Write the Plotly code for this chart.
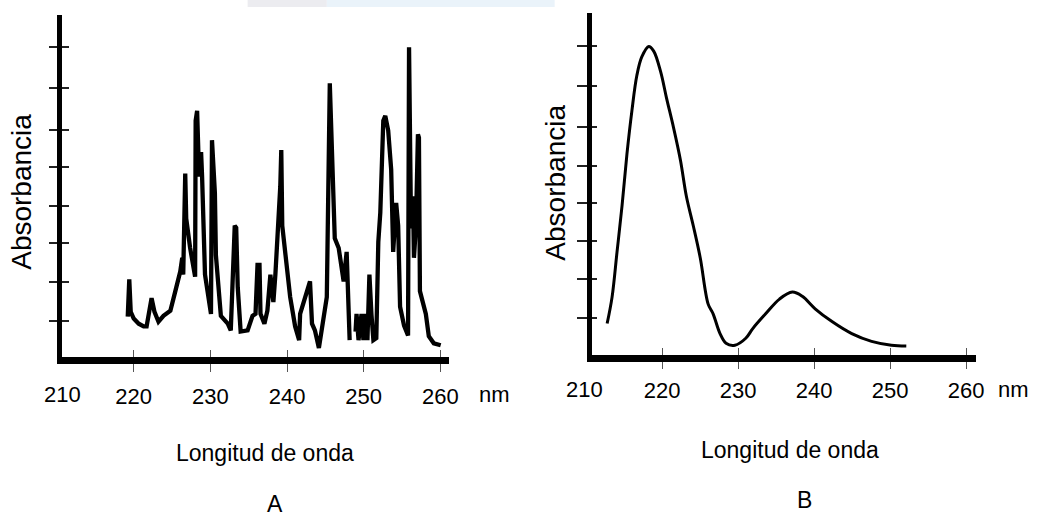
import plotly.graph_objects as go

# ---------------- data ----------------
# Panel A: jagged spectrum (wavelength nm, absorbance in tick units); None = gap in the trace
a_nm = [219.22, 219.42, 219.61, 220.00, 220.65, 221.29, 221.68, 222.33, 222.71, 223.23,
        223.88, 224.52, 224.78, 225.43, 226.07, 226.33, 226.46, 226.72, 226.85, 227.36,
        228.01, 228.08, 228.27, 228.53, 228.79, 228.92, 229.30, 230.08, 230.21, 230.59,
        230.72, 231.37, 232.27, 232.66, 232.92, 233.18, 233.37, 233.57, 233.95, 234.86,
        235.50, 235.89, 236.15, 236.41, 236.54, 237.05, 237.44, 237.83, 238.22, 238.48,
        239.12, 239.25, 239.38, 239.77, 240.41, 241.06, 241.58, 241.71, 242.35, 243.00,
        243.26, 243.64, 244.16, 244.55, 245.19, 245.58, 245.97, 246.23, 246.74, 247.39,
        247.78, 248.04, 248.17, None, 248.94, 249.07, 249.33, 249.72, 249.97, 250.23,
        250.49, 250.75, 251.01, 251.27, 251.65, 251.91, 252.17, 252.56, 252.82, 253.20,
        253.59, 253.85, 254.24, 254.50, 254.75, 255.27, 255.79, 255.92, 256.18, 256.43,
        256.56, 256.82, 257.08, 257.21, 257.34, 258.11, 258.50, 259.15, 260.05]
a_abs = [0.93, 1.88, 1.05, 0.88, 0.75, 0.68, 0.68, 1.40, 1.05, 0.80,
         0.95, 1.05, 1.08, 1.58, 2.08, 2.43, 2.00, 4.58, 3.43, 2.68,
         1.95, 5.93, 6.18, 4.50, 5.13, 4.50, 2.00, 1.00, 5.43, 4.08,
         2.50, 0.95, 0.75, 0.58, 1.75, 3.25, 3.20, 1.68, 0.55, 0.58,
         0.95, 1.00, 2.25, 2.25, 1.00, 0.75, 1.08, 2.00, 1.30, 2.00,
         4.25, 5.18, 3.25, 2.50, 1.43, 0.68, 0.33, 1.00, 1.43, 1.83,
         0.75, 0.58, 0.13, 0.58, 1.43, 6.88, 4.83, 2.93, 2.68, 1.83,
         2.58, 0.33, 0.33, None, 0.55, 1.00, 0.33, 1.00, 0.33, 1.00,
         0.33, 2.00, 1.00, 0.33, 0.38, 2.83, 3.58, 5.93, 6.05, 5.68,
         4.68, 2.58, 3.83, 3.25, 1.18, 0.70, 0.45, 7.80, 3.18, 4.00,
         2.43, 3.25, 5.58, 5.50, 1.58, 1.00, 0.43, 0.25, 0.20]

# Panel B: smooth spectrum
b_nm = [212.75, 213.40, 214.05, 214.71, 215.36, 216.01, 216.66, 217.31, 218.23, 218.88,
        219.79, 220.57, 221.49, 222.40, 223.18, 224.09, 225.01, 226.05, 226.70, 227.61,
        228.40, 229.57, 231.00, 231.92, 233.61, 235.44, 237.13, 238.44, 240.13, 242.35,
        244.95, 247.56, 250.17, 252.13]
b_abs = [0.71, 1.39, 2.55, 3.74, 5.08, 6.19, 7.10, 7.58, 7.85, 7.73,
         7.20, 6.52, 5.76, 4.92, 3.99, 3.23, 2.40, 1.21, 0.96, 0.45,
         0.20, 0.15, 0.33, 0.58, 0.96, 1.34, 1.52, 1.41, 1.09, 0.76,
         0.45, 0.25, 0.15, 0.13]

x_tick_vals = [210, 220, 230, 240, 250, 260]
x_tick_text = ["210", "220", "230", "240", "250", "260"]
a_y_ticks = [0.825, 1.825, 2.8, 3.75, 4.75, 5.7, 6.775, 7.8]
b_y_ticks = [0.86, 1.87, 2.83, 3.81, 4.77, 5.78, 6.84, 7.85]

panel_letters = ["A", "B"]
x_title = "Longitud de onda"
y_title = "Absorbancia"
unit = "nm"

# ---------------- figure ----------------
W, H = 1046, 516
FONT = "Liberation Sans, Arial, sans-serif"

def fx(px):
    return px / W

def fy(py):
    return (H - py) / H

fig = go.Figure()
fig.add_trace(go.Scatter(x=a_nm, y=a_abs, mode="lines", connectgaps=False,
                         line=dict(color="black", width=4.3), xaxis="x", yaxis="y",
                         hoverinfo="skip"))
fig.add_trace(go.Scatter(x=b_nm, y=b_abs, mode="lines", line_shape="spline",
                         line=dict(color="black", width=3), xaxis="x2", yaxis="y2",
                         hoverinfo="skip"))
# empty traces to activate the overlay (inside-tick) axes
fig.add_trace(go.Scatter(x=[None], y=[None], xaxis="x3", yaxis="y3", hoverinfo="skip"))
fig.add_trace(go.Scatter(x=[None], y=[None], xaxis="x4", yaxis="y4", hoverinfo="skip"))

a_xr = [210.63, 261.09]
a_yr = [-0.0875, 8.625]
b_xr = [210.73, 261.25]
b_yr = [-0.088, 8.712]

tickfont = dict(family=FONT, size=22, color="black")

def main_x(rng, dom, anchor, out_len, standoff):
    return dict(domain=dom, range=rng, anchor=anchor, showline=True, linewidth=7,
                linecolor="black", ticks="outside", ticklen=out_len, tickwidth=1,
                tickcolor="#555", tickvals=x_tick_vals, ticktext=x_tick_text,
                tickfont=tickfont, showgrid=False, zeroline=False, fixedrange=True,
                ticklabelstandoff=standoff)

def main_y(rng, dom, anchor, vals, out_len):
    return dict(domain=dom, range=rng, anchor=anchor, showline=True, linewidth=5,
                linecolor="black", ticks="outside", ticklen=out_len, tickwidth=1.5,
                tickcolor="#222", tickvals=vals, showticklabels=False,
                showgrid=False, zeroline=False, fixedrange=True)

def over_x(rng, base, anchor, in_len):
    return dict(overlaying=base, range=rng, anchor=anchor, showline=False,
                ticks="inside", ticklen=in_len, tickwidth=1, tickcolor="#555",
                tickvals=x_tick_vals[1:], showticklabels=False, showgrid=False,
                zeroline=False, fixedrange=True)

def over_y(rng, base, anchor, vals, in_len):
    return dict(overlaying=base, range=rng, anchor=anchor, showline=False,
                ticks="inside", ticklen=in_len, tickwidth=1.5, tickcolor="#222",
                tickvals=vals, showticklabels=False, showgrid=False,
                zeroline=False, fixedrange=True)

a_xdom = [fx(62.5), fx(453)]
a_ydom = [fy(356.5), fy(15)]
b_xdom = [fx(597.5), fx(985)]
b_ydom = [fy(354.5), fy(13)]

fig.update_layout(
    width=W, height=H, margin=dict(l=0, r=0, t=0, b=0),
    paper_bgcolor="white", plot_bgcolor="rgba(0,0,0,0)", showlegend=False,
    xaxis=main_x(a_xr, a_xdom, "y", 8.5, 6),
    yaxis=main_y(a_yr, a_ydom, "x", a_y_ticks, 7.5),
    xaxis2=main_x(b_xr, b_xdom, "y2", 7.5, 3),
    yaxis2=main_y(b_yr, b_ydom, "x2", b_y_ticks, 9.5),
    xaxis3=over_x(a_xr, "x", "y3", 6.5),
    yaxis3=over_y(a_yr, "y", "x3", a_y_ticks, 7.5),
    xaxis4=over_x(b_xr, "x2", "y4", 6.5),
    yaxis4=over_y(b_yr, "y2", "x4", b_y_ticks, 5.5),
)

# faint watermark strip at the top edge
fig.add_shape(type="rect", xref="paper", yref="paper", x0=fx(250), x1=fx(330),
              y0=fy(7), y1=1, fillcolor="#ececf0", line_width=0, layer="below")
fig.add_shape(type="rect", xref="paper", yref="paper", x0=fx(330), x1=fx(560),
              y0=fy(7), y1=1, fillcolor="#eaf3fa", line_width=0, layer="below")

def ann(text, px, py, font, angle=0):
    fig.add_annotation(text=text, x=fx(px), y=fy(py), xref="paper", yref="paper",
                       showarrow=False, textangle=angle, font=font,
                       xanchor="center", yanchor="middle")

lab_font = dict(family=FONT, size=23, color="black")
unit_font = dict(family=FONT, size=22, color="black")
ytitle_font = dict(family=FONT, size=28, color="black")

# first tick label (210) sits at the y-axis corner, outside the plotted range
ann(x_tick_text[0], 63, 394, unit_font)
ann(x_tick_text[0], 590, 389, unit_font)
ann(unit, 499, 394, unit_font)
ann(unit, 1023, 389, unit_font)
ann(x_title, 268, 453, lab_font)
ann(x_title, 798, 450, lab_font)
ann(panel_letters[0], 278, 504, lab_font)
ann(panel_letters[1], 812, 500, lab_font)
ann(y_title, 21, 192, ytitle_font, -90)
ann(y_title, 561, 183, ytitle_font, -90)

fig.write_html("out.html", config={"displayModeBar": False},
               post_script="document.body.style.margin='0';document.body.style.overflow='hidden';")
